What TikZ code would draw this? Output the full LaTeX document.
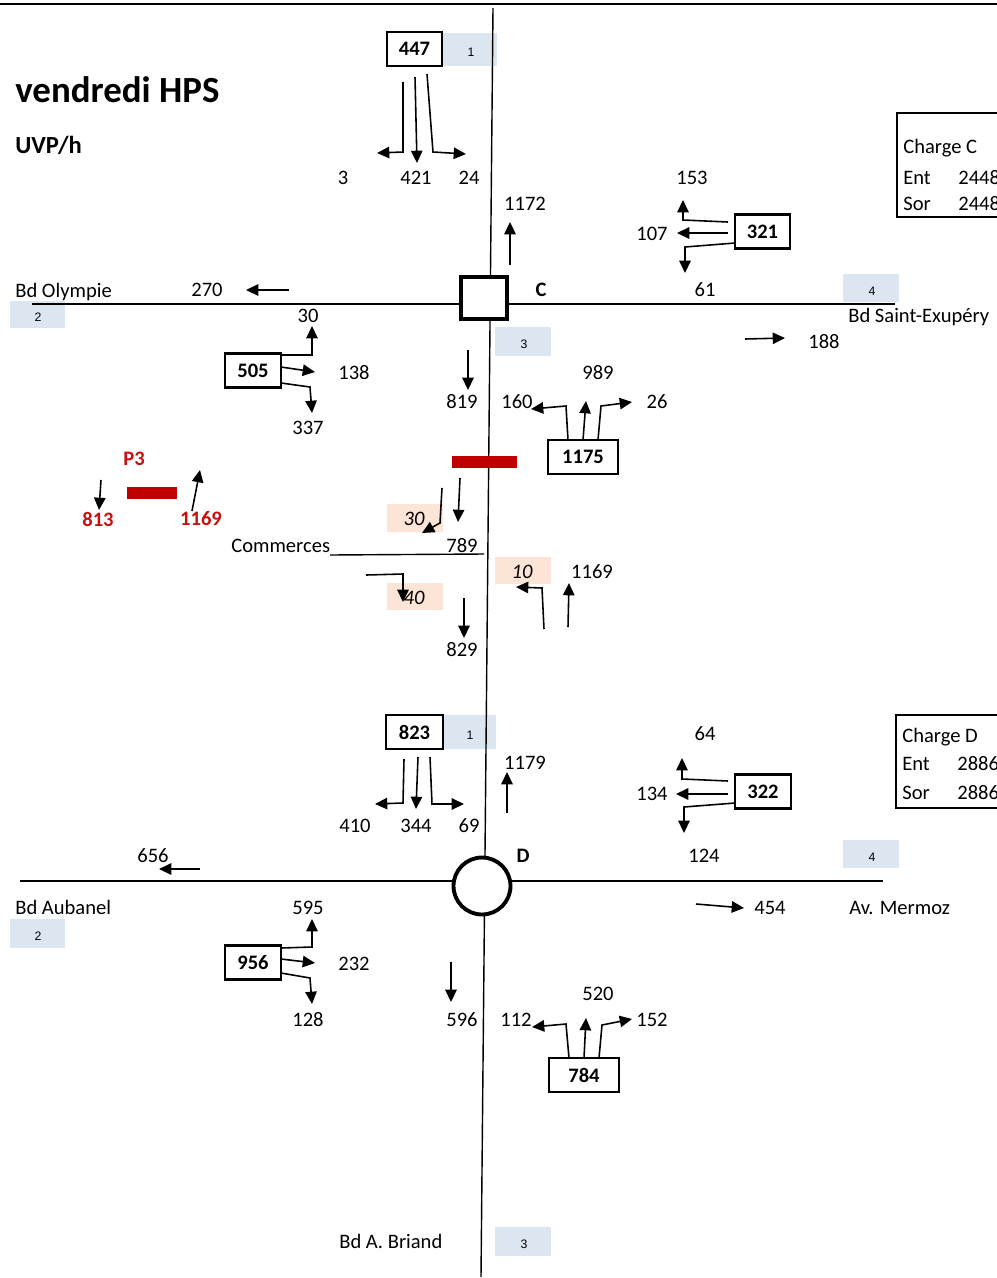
\documentclass[tikz,border=0pt]{standalone}
\usepackage{fontspec}
\setmainfont{Carlito}
\newfontfamily\tagfont{Liberation Sans}
\usetikzlibrary{arrows.meta}
\definecolor{lblue}{RGB}{220,230,241}
\definecolor{lpeach}{RGB}{252,228,214}
\definecolor{dred}{RGB}{192,0,0}
\definecolor{tred}{RGB}{200,16,16}
\newcommand\fs{\fontsize{11.7}{14}\selectfont}
\begin{document}
\begin{tikzpicture}[x=0.02cm,y=-0.02cm,
  num/.style={font=\fs, inner sep=0pt},
  bnum/.style={font=\fs\bfseries, inner sep=0pt},
  rnum/.style={font=\fs\bfseries, text=tred, inner sep=0pt},
  inum/.style={font=\fs\itshape, inner sep=0pt},
  lbl/.style={font=\fs, inner sep=0pt, anchor=base west},
  vbox/.style={draw, line width=1.4pt, fill=white, minimum height=0.68cm, inner sep=0pt, font=\fs\bfseries},
  tagtext/.style={font=\tagfont\fontsize{7}{8}\selectfont, inner sep=0pt},
  arr/.style={line width=0.9pt, -{Triangle[length=7pt,width=6.5pt]}},
  road/.style={line width=0.8pt},
  chg/.style={draw, line width=1.2pt}]
\useasboundingbox (0,0) rectangle (997,1278);
\clip (0,0) rectangle (997,1278);
\fill[white] (0,0) rectangle (997,1278);
% top border
\draw[line width=1.2pt] (0,4) -- (997,4);

% blue tags
\fill[lblue] (443,33) rectangle (497,66);
\fill[lblue] (10,301) rectangle (65,328);
\fill[lblue] (495,327) rectangle (551,356);
\fill[lblue] (843,274) rectangle (899,302);
\fill[lblue] (443,715) rectangle (496,749);
\fill[lblue] (843,840) rectangle (899,868);
\fill[lblue] (10,919) rectangle (65,948);
\fill[lblue] (495,1227) rectangle (551,1256);
\node[tagtext] (t1a) at (471,52) {1};
\node[tagtext] (t2a) at (38,317) {2};
\node[tagtext] (t3a) at (524,344) {3};
\node[tagtext] (t4a) at (872,291) {4};
\node[tagtext] (t1b) at (470,735) {1};
\node[tagtext] (t4b) at (872,857) {4};
\node[tagtext] (t2b) at (38,936) {2};
\node[tagtext] (t3b) at (524,1244) {3};

% peach boxes
\fill[lpeach] (387,504) rectangle (443,532);
\fill[lpeach] (387,583) rectangle (443,610);
\fill[lpeach] (495,557) rectangle (551,584);

% roads
\draw[road] (493,8) -- (481,1277);
\draw[road] (32,304) -- (895,304);
\draw[road] (20,881) -- (883,881);
\draw[road] (330,555) -- (484,554);

% intersection C and D
\node[draw, line width=2.2pt, fill=white, minimum width=0.92cm, minimum height=0.84cm, inner sep=0pt] (C) at (484,298) {};
\node[draw, circle, line width=2.2pt, fill=white, minimum size=1.14cm, inner sep=0pt] (D) at (482,886) {};
\node[bnum] (Clab) at (541,290) {C};
\node[bnum] (Dlab) at (523,856) {D};

% red bars
\fill[dred] (452,456) rectangle (517,468);
\fill[dred] (127,487) rectangle (177,499);

% title
\node[anchor=base west, inner sep=0pt, font=\fontsize{21}{24}\selectfont\bfseries] (title) at (15,102) {vendredi HPS};
\node[anchor=base west, inner sep=0pt, font=\fontsize{14}{16}\selectfont\bfseries] (unit) at (15,153) {UVP/h};

% road names
\node[lbl] (olympie) at (15,297) {Bd Olympie};
\node[lbl] (exupery) at (848,322) {Bd Saint-Exupéry};
\node[lbl] (commerces) at (231,552) {Commerces};
\node[lbl] (aubanel) at (15,914) {Bd Aubanel};
\node[lbl] (mermoz) at (849,914) {Av. Mermoz};
\node[lbl] (briand) at (339,1248) {Bd A. Briand};

% charge boxes
\draw[chg] (897,113) rectangle (1010,217);
\node[lbl] (chC) at (903,153) {Charge C};
\node[lbl] (entC) at (903,184) {Ent};
\node[lbl] (entCv) at (958,184) {2448};
\node[lbl] (sorC) at (903,210) {Sor};
\node[lbl] (sorCv) at (958,210) {2448};
\draw[chg] (896,715) rectangle (1010,808);
\node[lbl] (chD) at (902,742) {Charge D};
\node[lbl] (entD) at (902,770) {Ent};
\node[lbl] (entDv) at (957,770) {2886};
\node[lbl] (sorD) at (902,799) {Sor};
\node[lbl] (sorDv) at (957,799) {2886};

% volume boxes
\node[vbox, minimum width=1.1cm] (b447) at (414.5,49) {447};
\node[vbox, minimum width=1.1cm] (b321) at (762.5,231.5) {321};
\node[vbox, minimum width=1.12cm] (b505) at (253,370.5) {505};
\node[vbox, minimum width=1.4cm] (b1175) at (583,457) {1175};
\node[vbox, minimum width=1.14cm] (b823) at (414.5,732) {823};
\node[vbox, minimum width=1.12cm] (b322) at (763,791.5) {322};
\node[vbox, minimum width=1.12cm] (b956) at (253,962.5) {956};
\node[vbox, minimum width=1.4cm] (b784) at (584,1075) {784};

% ---- arrows C ----
\draw[arr] (403,82) -- (403,152) -- (377,153);
\draw[arr] (415,77) -- (417,163);
\draw[arr] (427,74) -- (433,152) -- (466,154);
\draw[arr] (510,265) -- (510,222);
\draw[arr] (728,222) -- (683,220) -- (683,200);
\draw[arr] (728,233) -- (677,233);
\draw[arr] (735,243) -- (685,247) -- (685,273);
\draw[arr] (289,290) -- (246,290);
\draw[arr] (745,339) -- (785,338);
\draw[arr] (281,355) -- (312,355) -- (312,326);
\draw[arr] (281,367) -- (315,372);
\draw[arr] (281,383) -- (310,387) -- (312,413);
\draw[arr] (468,350) -- (468,390);
\draw[arr] (568,440) -- (566,406) -- (531,409);
\draw[arr] (583,440) -- (586,401);
\draw[arr] (598,440) -- (601,406) -- (632,402);

% ---- middle section ----
\draw[arr] (101,480) -- (99,510);
\draw[arr] (192,511) -- (200,470);
\draw[arr] (460,478) -- (458,522);
\draw[arr] (442,488) -- (440,523) -- (422,533);
\draw[arr] (366,575) -- (403,574) -- (403,602);
\draw[arr] (464,598) -- (464,638);
\draw[arr] (544,629) -- (542,588) -- (516,587);
\draw[arr] (568,627) -- (569,583);

% ---- arrows D ----
\draw[arr] (404,759) -- (403,803) -- (375,804);
\draw[arr] (418,757) -- (416,809);
\draw[arr] (430,757) -- (432,804) -- (464,804);
\draw[arr] (507,813) -- (507,772);
\draw[arr] (728,781) -- (682,779) -- (682,758);
\draw[arr] (728,794) -- (676,794);
\draw[arr] (735,803) -- (684,807) -- (684,833);
\draw[arr] (696,904) -- (744,908);
\draw[arr] (200,869) -- (159,869);
\draw[arr] (281,948) -- (312,947) -- (312,919);
\draw[arr] (281,959) -- (315,963);
\draw[arr] (281,973) -- (310,978) -- (312,1004);
\draw[arr] (451,962) -- (451,1002);
\draw[arr] (569,1058) -- (566,1024) -- (532,1027);
\draw[arr] (584,1058) -- (586,1018);
\draw[arr] (599,1058) -- (602,1025) -- (632,1019);

% ---- numbers C ----
\node[num] (n3) at (343,178) {3};
\node[num] (n421) at (416,178) {421};
\node[num] (n24) at (469,178) {24};
\node[num] (n1172) at (525,204) {1172};
\node[num] (n153) at (692,178) {153};
\node[num] (n107) at (652,234) {107};
\node[num] (n61) at (705,290) {61};
\node[num] (n270) at (207,290) {270};
\node[num] (n188) at (824,342) {188};
\node[num] (n30) at (308,316) {30};
\node[num] (n138) at (354,373) {138};
\node[num] (n337) at (308,428) {337};
\node[num] (n819) at (462,402) {819};
\node[num] (n989) at (598,373) {989};
\node[num] (n160) at (517,402) {160};
\node[num] (n26) at (657,402) {26};

% ---- middle ----
\node[rnum] (p3) at (134,459) {P3};
\node[rnum] (n813) at (98,519) {813};
\node[rnum] (n1169r) at (201,519) {1169};
\node[num] (n789) at (462,546) {789};
\node[inum] (i30) at (414,519) {30};
\node[inum] (i40) at (414,598) {40};
\node[num] (n829) at (462,650) {829};
\node[inum] (i10) at (522,572) {10};
\node[num] (n1169) at (592,572) {1169};

% ---- numbers D ----
\node[num] (n64) at (705,734) {64};
\node[num] (n1179) at (525,763) {1179};
\node[num] (n410) at (355,826) {410};
\node[num] (n344) at (416,826) {344};
\node[num] (n69) at (469,826) {69};
\node[num] (n134) at (652,794) {134};
\node[num] (n124) at (704,856) {124};
\node[num] (n656) at (153,856) {656};
\node[num] (n454) at (770,908) {454};
\node[num] (n595) at (308,908) {595};
\node[num] (n232) at (354,964) {232};
\node[num] (n128) at (308,1020) {128};
\node[num] (n596) at (462,1020) {596};
\node[num] (n520) at (598,994) {520};
\node[num] (n112) at (516,1020) {112};
\node[num] (n152) at (652,1020) {152};
\end{tikzpicture}
\end{document}
